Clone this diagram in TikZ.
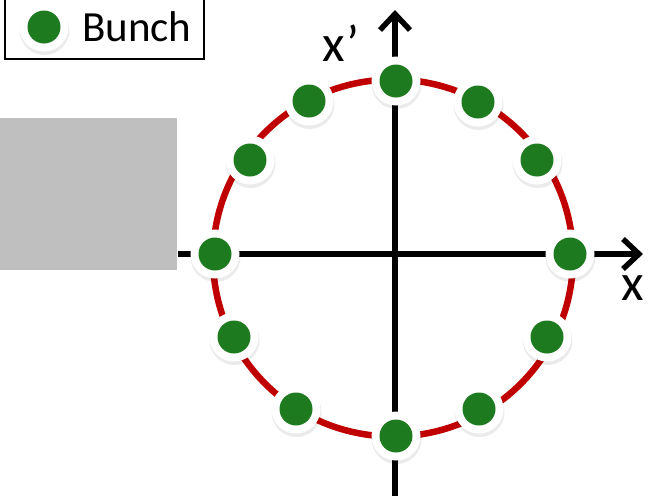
\documentclass[tikz,border=0pt]{standalone}
\usepackage{fontspec}
\setmainfont{Carlito}
\usetikzlibrary{arrows.meta}
\definecolor{bunchgreen}{HTML}{1E7A1E}
\definecolor{orbitred}{HTML}{C00000}
\definecolor{blockgray}{HTML}{BFBFBF}
\tikzset{
  bunch/.style={circle, fill=white, minimum size=49pt, inner sep=0pt,
    path picture={\fill[bunchgreen] (path picture bounding box.center) circle (16.5pt);}},
  bunchshadow/.style={circle, fill=black, opacity=0.08, minimum size=50pt, inner sep=0pt},
  axis/.style={line width=5.5pt, -{Straight Barb[length=16pt, width=30pt, line width=5.5pt]}},
  axislabel/.style={font=\fontsize{52}{56}\selectfont, inner sep=0pt},
}
\begin{document}
\begin{tikzpicture}[x=1pt, y=-1pt]
  \useasboundingbox (0,0) rectangle (649,496);
  % grey block on the left
  \fill[blockgray] (0,118) rectangle (177,270);
  % axes
  \coordinate (xs) at (178,254);
  \coordinate (xe) at (643,254);
  \coordinate (ys) at (395,496);
  \coordinate (ye) at (395,10);
  \draw[axis] (xs) -- (xe);
  \draw[axis] (ys) -- (ye);
  \node[axislabel] (lx) at (633,288) {x};
  \node[axislabel] (lxp) at (341,43) {x’};
  % orbit
  \coordinate (c) at (393,258);
  \draw[orbitred, line width=6.5pt] (c) ellipse (180 and 178.5);
  % bunches along the orbit
  \foreach \n/\px/\py in {b1/396/81, b2/478/102, b3/537/160, b4/570/254,
      b5/547/337, b6/479/409, b7/396/436, b8/296/409, b9/234/337,
      b10/215/254, b11/250/160, b12/309/101} {
    \node[bunchshadow] at (\px+0.5,\py+3) {};
    \node[bunch] (\n) at (\px,\py) {};
  }
  % legend
  \draw[line width=1.5pt] (5,-2) rectangle (204,59);
  \node[bunchshadow] at (44.5,30) {};
  \node[bunch] (key) at (44,27) {};
  \node[anchor=west, font=\fontsize{43}{47}\selectfont, inner sep=0pt] (keytext) at (82,27) {Bunch};
\end{tikzpicture}
\end{document}
